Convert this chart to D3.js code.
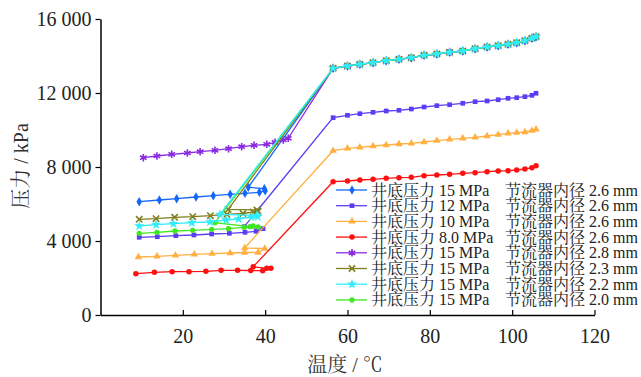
<!DOCTYPE html>
<html>
<head>
<meta charset="utf-8">
<script src="https://cdn.jsdelivr.net/npm/d3@7"></script>
<style>
  body { margin: 0; background: #fff; }
  svg text { font-family: "Liberation Serif", "Noto Serif CJK SC", "Noto Sans CJK SC", serif; }
</style>
</head>
<body>
<div id="chart"></div>
<script>
// temperature (°C) of the points on the high-pressure branch, shared by all series
const tempHigh = [56.5, 60, 63, 66.2, 69.4, 72.5, 75.5, 78.6, 81.7, 84.8, 88, 91, 93.9, 96.6, 99, 101.1, 103.1, 104.8, 105.8];

// pressure on the high branch (kPa)
const high15 = [13335, 13459, 13551, 13638, 13746, 13822, 13908, 14038, 14108, 14200, 14270, 14395, 14486, 14557, 14632, 14719, 14827, 14957, 15043];
const high12 = [10665, 10795, 10881, 10957, 11027, 11065, 11135, 11243, 11314, 11368, 11443, 11530, 11568, 11638, 11714, 11746, 11800, 11876, 11984];
const high10 = [8881, 9011, 9065, 9135, 9189, 9243, 9281, 9351, 9422, 9497, 9551, 9605, 9676, 9746, 9822, 9854, 9892, 9962, 10038];
const high8 = [7205, 7243, 7297, 7335, 7389, 7422, 7443, 7530, 7568, 7605, 7659, 7692, 7746, 7784, 7800, 7838, 7892, 7962, 8070];

// low branch of each series: temperature and pressure
const lowT_15_26 = [9.4, 14.3, 18.5, 23.2, 27.4, 31.5, 35.1, 38.6, 40.0, 39.8, 35.9];
const lowP_15_26 = [6124, 6216, 6286, 6378, 6449, 6524, 6578, 6632, 6719, 6827, 6903];
const lowT_12 = [9.4, 13.8, 18.3, 22.7, 27.0, 31.3, 35.1, 37.8, 39.5, 34.9];
const lowP_12 = [4200, 4232, 4286, 4324, 4378, 4416, 4470, 4524, 4665, 4773];
const lowT_10 = [9.2, 13.7, 18.2, 22.8, 27.1, 31.5, 35.0, 38.3, 39.9, 35.0];
const lowP_10 = [3135, 3173, 3227, 3281, 3314, 3351, 3378, 3378, 3595, 3622];
const lowT_8 = [8.6, 13.1, 17.4, 21.5, 25.6, 29.3, 33.3, 36.5, 39.4, 41.4, 40.4, 37.1];
const lowP_8 = [2232, 2308, 2341, 2341, 2362, 2416, 2416, 2405, 2395, 2524, 2524, 2611];
const lowT_28 = [10.4, 13.7, 17.3, 21.1, 24.2, 27.8, 31.1, 34.3, 37.3, 40.4, 42.4, 44.4, 45.6];
const lowP_28 = [8503, 8595, 8686, 8757, 8827, 8903, 8989, 9097, 9173, 9227, 9335, 9459, 9551];
const lowT_23 = [9.4, 13.5, 18.0, 22.4, 26.7, 30.7, 34.6, 37.1, 38.3, 38.0, 31.0];
const lowP_23 = [5173, 5205, 5281, 5314, 5368, 5443, 5486, 5568, 5605, 5676, 5714];
const lowT_22 = [9.4, 13.5, 17.7, 22.2, 26.6, 30.5, 33.5, 36.7, 38.2, 38.0, 29.0];
const lowP_22 = [4811, 4881, 4935, 4989, 5027, 5135, 5189, 5297, 5314, 5389, 5443];
const lowT_20 = [9.4, 13.7, 18.1, 22.4, 27.0, 31.1, 34.9, 37.1, 38.3, 36.3, 27.8];
const lowP_20 = [4416, 4470, 4541, 4578, 4632, 4665, 4741, 4811, 4757, 4773, 4989];

const wellPressure = ['15', '12', '10', '8.0', '15', '15', '15', '15'];
const chokeDiameter = ['2.6', '2.6', '2.6', '2.6', '2.8', '2.3', '2.2', '2.0'];
const lowTemps = [lowT_15_26, lowT_12, lowT_10, lowT_8, lowT_28, lowT_23, lowT_22, lowT_20];
const lowPress = [lowP_15_26, lowP_12, lowP_10, lowP_8, lowP_28, lowP_23, lowP_22, lowP_20];
const highPress = [high15, high12, high10, high8, high15, high15, high15, high15];

const colors = ['#1466ff', '#5b3df5', '#ffb040', '#ff1010', '#8a2be2', '#7f7f20', '#30ecff', '#40e620'];
const symbols = [d3.symbolDiamond, d3.symbolSquare, d3.symbolTriangle, d3.symbolCircle,
                 d3.symbolAsterisk, d3.symbolTimes, d3.symbolStar, d3.symbolCircle];
const strokeSymbol = [false, false, false, false, true, true, false, false];
const symbolSize = [26, 22, 24, 24, 40, 28, 32, 22];
const drawOrder = [0, 1, 2, 3, 4, 5, 7, 6];

const xTicks = [20, 40, 60, 80, 100, 120];
const yTicks = [0, 4000, 8000, 12000, 16000];

const width = 641, height = 377;
const x = d3.scaleLinear().domain([0, 120]).range([100.5, 594.5]);
const y = d3.scaleLinear().domain([0, 16000]).range([315, 19]);

const series = wellPressure.map((wp, i) => ({
  label: `井底压力 ${wp} MPa`,
  label2: `节流器内径 ${chokeDiameter[i]} mm`,
  color: colors[i],
  points: lowTemps[i].map((t, j) => ({ t, p: lowPress[i][j] }))
    .concat(tempHigh.map((t, j) => ({ t, p: highPress[i][j] })))
}));

const svg = d3.select('#chart').append('svg')
  .attr('width', width)
  .attr('height', height);

// axes
const fmt = v => v === 0 ? '0' : d3.format(',')(v).replace(',', ' ');

const xAxis = svg.append('g')
  .attr('transform', `translate(0,${y(0)})`)
  .call(d3.axisBottom(x).tickValues(xTicks).tickSizeInner(-5).tickSizeOuter(0).tickPadding(14));
xAxis.select('.domain').attr('stroke-width', 1.5);
xAxis.selectAll('.tick line').attr('stroke-width', 1.2);
xAxis.selectAll('text').attr('font-size', 20).attr('fill', '#222');

const yAxis = svg.append('g')
  .attr('transform', `translate(${x(0)},0)`)
  .call(d3.axisLeft(y).tickValues(yTicks).tickSizeInner(5).tickSizeOuter(0).tickPadding(4).tickFormat(fmt));
yAxis.select('.domain').attr('stroke-width', 1.5);
yAxis.selectAll('.tick line').attr('stroke-width', 1.2);
yAxis.selectAll('text').attr('font-size', 20).attr('fill', '#222');

svg.append('text')
  .attr('x', 345).attr('y', 372)
  .attr('text-anchor', 'middle')
  .attr('font-size', 20).attr('fill', '#333')
  .text('温度 / ℃');

svg.append('text')
  .attr('transform', 'translate(28,166) rotate(-90)')
  .attr('text-anchor', 'middle')
  .attr('font-size', 20).attr('fill', '#333')
  .text('压力 / kPa');

// series
const line = d3.line().x(d => x(d.t)).y(d => y(d.p));

const drawSymbol = (g, i) => {
  const path = g.append('path').attr('d', d3.symbol(symbols[i], symbolSize[i])());
  if (strokeSymbol[i]) path.attr('fill', 'none').attr('stroke', colors[i]).attr('stroke-width', 1.6);
  else path.attr('fill', colors[i]);
};

drawOrder.forEach(i => {
  const s = series[i];
  const g = svg.append('g');
  g.append('path')
    .attr('d', line(s.points))
    .attr('fill', 'none')
    .attr('stroke', s.color)
    .attr('stroke-width', 1.3);
  g.selectAll('.pt')
    .data(s.points)
    .enter()
    .append('g')
    .attr('transform', d => `translate(${x(d.t)},${y(d.p)})`)
    .each(function () { drawSymbol(d3.select(this), i); });
});

// legend
const legend = svg.append('g');
series.forEach((s, i) => {
  const ly = 190 + i * 15.7;
  const row = legend.append('g').attr('transform', `translate(0,${ly})`);
  row.append('line')
    .attr('x1', 336).attr('x2', 367)
    .attr('stroke', s.color).attr('stroke-width', 1.3);
  drawSymbol(row.append('g').attr('transform', 'translate(352,0)'), i);
  row.append('text')
    .attr('x', 371).attr('y', 5.5)
    .attr('font-size', 16).attr('fill', '#222')
    .text(s.label);
  row.append('text')
    .attr('x', 505).attr('y', 5.5)
    .attr('font-size', 16).attr('fill', '#222')
    .text(s.label2);
});
</script>
</body>
</html>
